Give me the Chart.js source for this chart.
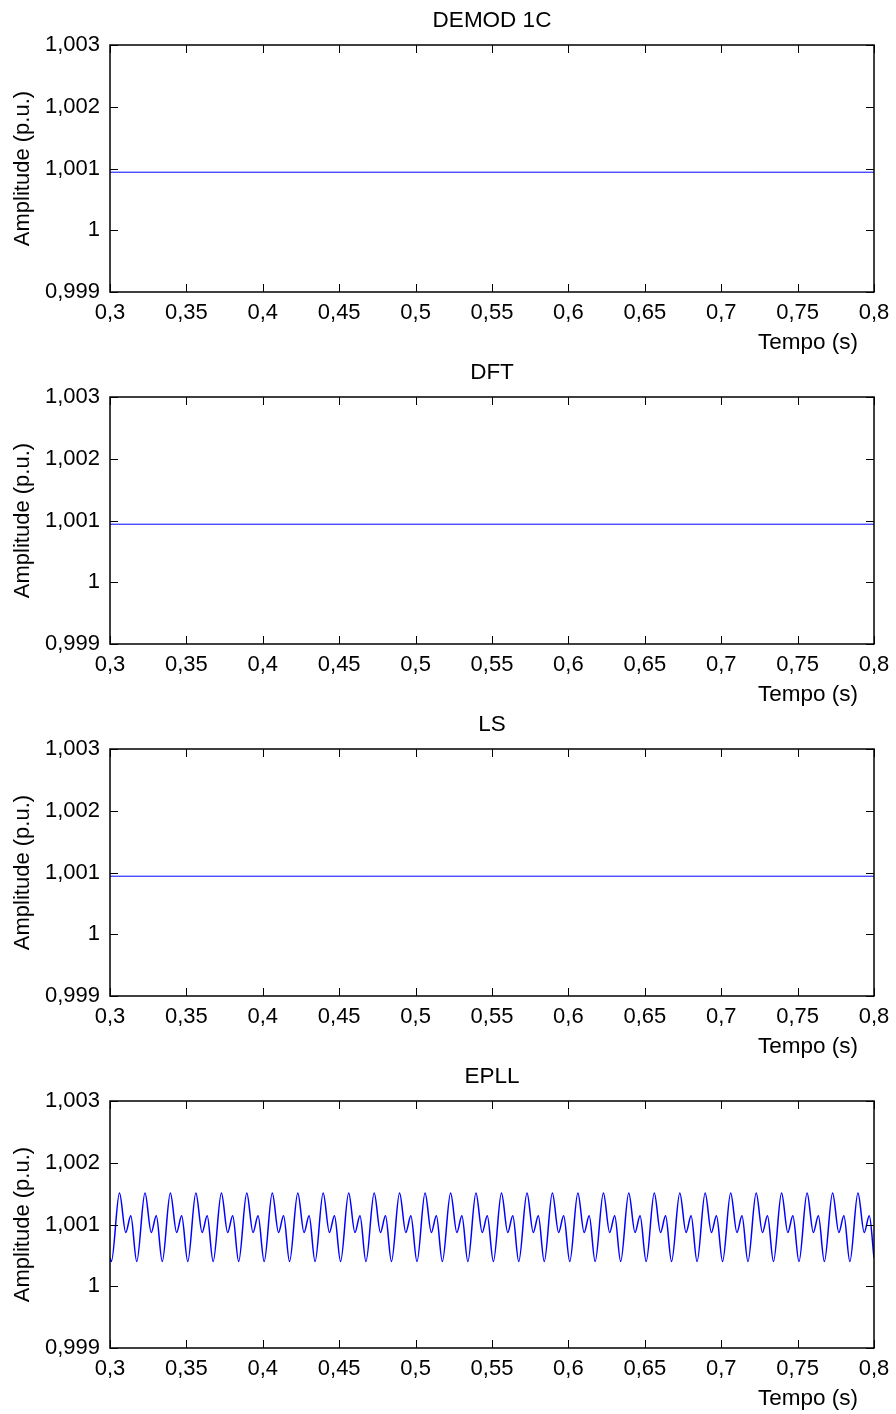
<!DOCTYPE html>
<html>
<head>
<meta charset="utf-8">
<script src="https://cdn.jsdelivr.net/npm/chart.js@4.4.1/dist/chart.umd.min.js"></script>
<style>
  html, body { margin: 0; padding: 0; background: #fff; }
  #wrap { position: relative; width: 896px; height: 1414px; }
  canvas { position: absolute; left: 0; }
</style>
</head>
<body>
<div id="wrap">
  <canvas id="c0" width="896" height="360" style="top:0px"></canvas>
  <canvas id="c1" width="896" height="360" style="top:352px"></canvas>
  <canvas id="c2" width="896" height="360" style="top:704px"></canvas>
  <canvas id="c3" width="896" height="358" style="top:1056px"></canvas>
</div>
<script>
// tick values and labels
var xTicks = [0.3, 0.35, 0.4, 0.45, 0.5, 0.55, 0.6, 0.65, 0.7, 0.75, 0.8];
var yTicks = [0.999, 1, 1.001, 1.002, 1.003];
var panelTitles = ['DEMOD 1C', 'DFT', 'LS', 'EPLL'];

// flat estimates (first three methods)
var flatTime = [0.3, 0.8];
var demodAmp = [1.00094, 1.00094];
var dftAmp = [1.00094, 1.00094];
var lsAmp = [1.00094, 1.00094];

// EPLL: turning points (peak, dip, small peak, trough per cycle)
var epllTime = [0.3, 0.3009,
  0.3062, 0.3103, 0.3136, 0.3175,
  0.3229, 0.3270, 0.3303, 0.3342,
  0.3395, 0.3436, 0.3469, 0.3509,
  0.3562, 0.3603, 0.3636, 0.3675,
  0.3729, 0.3770, 0.3803, 0.3842,
  0.3895, 0.3936, 0.3969, 0.4009,
  0.4062, 0.4103, 0.4136, 0.4175,
  0.4229, 0.4270, 0.4303, 0.4342,
  0.4395, 0.4436, 0.4469, 0.4509,
  0.4562, 0.4603, 0.4636, 0.4675,
  0.4729, 0.4770, 0.4803, 0.4842,
  0.4895, 0.4936, 0.4969, 0.5009,
  0.5062, 0.5103, 0.5136, 0.5175,
  0.5229, 0.5270, 0.5303, 0.5342,
  0.5395, 0.5436, 0.5469, 0.5509,
  0.5562, 0.5603, 0.5636, 0.5675,
  0.5729, 0.5770, 0.5803, 0.5842,
  0.5895, 0.5936, 0.5969, 0.6009,
  0.6062, 0.6103, 0.6136, 0.6175,
  0.6229, 0.6270, 0.6303, 0.6342,
  0.6395, 0.6436, 0.6469, 0.6509,
  0.6562, 0.6603, 0.6636, 0.6675,
  0.6729, 0.6770, 0.6803, 0.6842,
  0.6895, 0.6936, 0.6969, 0.7009,
  0.7062, 0.7103, 0.7136, 0.7175,
  0.7229, 0.7270, 0.7303, 0.7342,
  0.7395, 0.7436, 0.7469, 0.7509,
  0.7562, 0.7603, 0.7636, 0.7675,
  0.7729, 0.7770, 0.7803, 0.7842,
  0.7895, 0.7936, 0.7969, 0.8];
var epllAmp = [1.00046, 1.00040,
  1.00151, 1.00087, 1.00114, 1.00040,
  1.00151, 1.00087, 1.00114, 1.00040,
  1.00151, 1.00087, 1.00114, 1.00040,
  1.00151, 1.00087, 1.00114, 1.00040,
  1.00151, 1.00087, 1.00114, 1.00040,
  1.00151, 1.00087, 1.00114, 1.00040,
  1.00151, 1.00087, 1.00114, 1.00040,
  1.00151, 1.00087, 1.00114, 1.00040,
  1.00151, 1.00087, 1.00114, 1.00040,
  1.00151, 1.00087, 1.00114, 1.00040,
  1.00151, 1.00087, 1.00114, 1.00040,
  1.00151, 1.00087, 1.00114, 1.00040,
  1.00151, 1.00087, 1.00114, 1.00040,
  1.00151, 1.00087, 1.00114, 1.00040,
  1.00151, 1.00087, 1.00114, 1.00040,
  1.00151, 1.00087, 1.00114, 1.00040,
  1.00151, 1.00087, 1.00114, 1.00040,
  1.00151, 1.00087, 1.00114, 1.00040,
  1.00151, 1.00087, 1.00114, 1.00040,
  1.00151, 1.00087, 1.00114, 1.00040,
  1.00151, 1.00087, 1.00114, 1.00040,
  1.00151, 1.00087, 1.00114, 1.00040,
  1.00151, 1.00087, 1.00114, 1.00040,
  1.00151, 1.00087, 1.00114, 1.00040,
  1.00151, 1.00087, 1.00114, 1.00040,
  1.00151, 1.00087, 1.00114, 1.00040,
  1.00151, 1.00087, 1.00114, 1.00040,
  1.00151, 1.00087, 1.00114, 1.00040,
  1.00151, 1.00087, 1.00114, 1.00040,
  1.00151, 1.00087, 1.00114, 1.00046];

var FONT = '"Liberation Sans", Arial, Helvetica, sans-serif';

function comma(v) {
  return String(+Number(v).toFixed(4)).replace('.', ',');
}

function toPoints(t, a) {
  var pts = [];
  for (var i = 0; i < t.length; i++) pts.push({x: t[i], y: a[i]});
  return pts;
}

// box, inward ticks on all sides, x label at lower right
var framePlugin = {
  id: 'frame',
  afterDraw: function (chart) {
    var ctx = chart.ctx, a = chart.chartArea;
    var xs = chart.scales.x, ys = chart.scales.y;
    ctx.save();
    ctx.strokeStyle = '#000';
    ctx.lineWidth = 1;
    ctx.beginPath();
    xTicks.forEach(function (v) {
      var px = Math.round(xs.getPixelForValue(v)) + 0.5;
      ctx.moveTo(px, a.bottom); ctx.lineTo(px, a.bottom - 8);
      ctx.moveTo(px, a.top); ctx.lineTo(px, a.top + 8);
    });
    yTicks.forEach(function (v) {
      var py = Math.round(ys.getPixelForValue(v)) + 0.5;
      ctx.moveTo(a.left, py); ctx.lineTo(a.left + 8, py);
      ctx.moveTo(a.right, py); ctx.lineTo(a.right - 8, py);
    });
    ctx.stroke();
    ctx.lineWidth = 1.5;
    ctx.strokeRect(a.left, a.top, a.right - a.left, a.bottom - a.top);
    ctx.fillStyle = '#000';
    ctx.font = '22.5px ' + FONT;
    ctx.textAlign = 'right';
    ctx.textBaseline = 'middle';
    ctx.fillText('Tempo (s)', a.right - 16, a.bottom + 51);
    ctx.restore();
  }
};

function makePanel(id, title, t, amp, width, extraBottom) {
  new Chart(document.getElementById(id), {
    type: 'line',
    data: {
      datasets: [{
        data: toPoints(t, amp),
        borderColor: '#0000ff',
        borderWidth: width,
        pointRadius: 0,
        fill: false,
        cubicInterpolationMode: 'monotone'
      }]
    },
    options: {
      responsive: false,
      animation: false,
      layout: {padding: {left: 0, right: 22, top: 0, bottom: extraBottom}},
      plugins: {
        legend: {display: false},
        tooltip: {enabled: false},
        title: {
          display: true,
          text: title,
          fullSize: false,
          color: '#000',
          font: {family: FONT, size: 22.5, weight: 'normal'},
          padding: {top: 7, bottom: 11}
        }
      },
      scales: {
        x: {
          type: 'linear',
          min: 0.3,
          max: 0.8,
          grid: {display: false, drawTicks: false},
          border: {display: false},
          afterBuildTicks: function (s) { s.ticks = xTicks.map(function (v) { return {value: v}; }); },
          afterFit: function (s) { s.height = 60; s.paddingLeft = 0; s.paddingRight = 0; },
          ticks: {
            color: '#000',
            padding: 8,
            maxRotation: 0,
            autoSkip: false,
            font: {family: FONT, size: 22},
            callback: function (v) { return comma(v); }
          }
        },
        y: {
          type: 'linear',
          min: 0.999,
          max: 1.003,
          grid: {display: false, drawTicks: false},
          border: {display: false},
          afterBuildTicks: function (s) { s.ticks = yTicks.map(function (v) { return {value: v}; }); },
          afterFit: function (s) { s.width = 110; s.paddingTop = 0; s.paddingBottom = 0; },
          title: {
            display: true,
            text: 'Amplitude (p.u.)',
            color: '#000',
            font: {family: FONT, size: 22},
            padding: {top: 10, bottom: 0}
          },
          ticks: {
            color: '#000',
            padding: 10,
            autoSkip: false,
            font: {family: FONT, size: 22},
            callback: function (v) { return comma(v); }
          }
        }
      }
    },
    plugins: [framePlugin]
  });
}

makePanel('c0', panelTitles[0], flatTime, demodAmp, 1, 8);
makePanel('c1', panelTitles[1], flatTime, dftAmp, 1, 8);
makePanel('c2', panelTitles[2], flatTime, lsAmp, 1, 8);
makePanel('c3', panelTitles[3], epllTime, epllAmp, 1.5, 6);
</script>
</body>
</html>
